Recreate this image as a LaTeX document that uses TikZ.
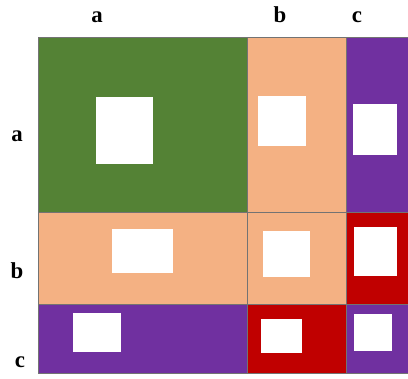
\documentclass[tikz,border=0pt]{standalone}
\usepackage{fontspec}
\setmainfont{Liberation Serif}
\usetikzlibrary{positioning}
\definecolor{cgreen}{HTML}{548235}
\definecolor{cpeach}{HTML}{F4B183}
\definecolor{cpurple}{HTML}{7030A0}
\definecolor{cred}{HTML}{C00000}
\begin{document}
\begin{tikzpicture}[
    x=0.02cm, y=-0.02cm,
    cell/.style={draw=black!55, line width=0.3pt, fill=#1},
    hole/.style={fill=white},
    lbl/.style={anchor=base, font=\bfseries\fontsize{13}{13}\selectfont},
]
    \useasboundingbox (0,0) rectangle (408,378);

    % row a
    \draw[cell=cgreen]  (38,37)  rectangle (247,212);
    \draw[cell=cpeach]  (247,37) rectangle (346,212);
    \draw[cell=cpurple] (346,37) rectangle (410,212);
    % row b
    \draw[cell=cpeach]  (38,212)  rectangle (247,304);
    \draw[cell=cpeach]  (247,212) rectangle (346,304);
    \draw[cell=cred]    (346,212) rectangle (410,304);
    % row c
    \draw[cell=cpurple] (38,304)  rectangle (247,373);
    \draw[cell=cred]    (247,304) rectangle (346,373);
    \draw[cell=cpurple] (346,304) rectangle (410,373);

    % white squares
    \fill[hole] (96,97)   rectangle (153,164);
    \fill[hole] (258,96)  rectangle (306,146);
    \fill[hole] (353,104) rectangle (397,155);
    \fill[hole] (112,229) rectangle (173,273);
    \fill[hole] (263,231) rectangle (310,277);
    \fill[hole] (354,227) rectangle (397,276);
    \fill[hole] (73,313)  rectangle (121,352);
    \fill[hole] (261,319) rectangle (302,353);
    \fill[hole] (354,314) rectangle (392,351);

    % labels
    \node[lbl] (cola) at (97,23)  {a};
    \node[lbl] (colb) at (280,23) {b};
    \node[lbl] (colc) at (357,23) {c};
    \node[lbl] (rowa) at (17,141) {a};
    \node[lbl] (rowb) at (17,278) {b};
    \node[lbl] (rowc) at (20,367) {c};
\end{tikzpicture}
\end{document}
